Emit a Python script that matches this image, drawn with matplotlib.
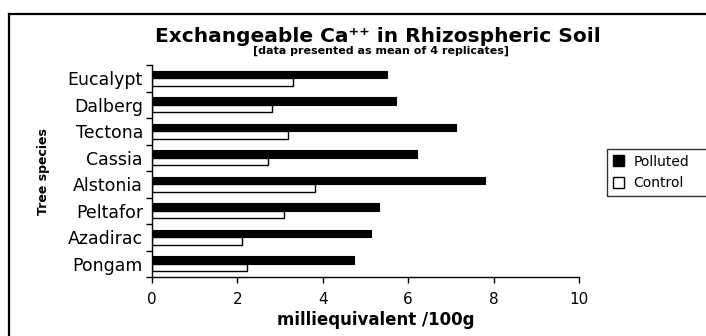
import matplotlib
matplotlib.use("Agg")
import matplotlib.pyplot as plt
import numpy as np
from matplotlib.lines import Line2D
from matplotlib.patches import Patch

species = ["Pongam", "Azadirac", "Peltafor", "Alstonia", "Cassia", "Tectona", "Dalberg", "Eucalypt"]
polluted = [4.72, 5.12, 5.31, 7.81, 6.20, 7.12, 5.71, 5.51]
control = [2.22, 2.11, 3.10, 3.82, 2.71, 3.19, 2.81, 3.30]
xticks = [0, 2, 4, 6, 8, 10]

plt.rcParams['font.family'] = ['DejaVu Sans']

W, H = 706, 336
fig = plt.figure(figsize=(W / 100, H / 100), dpi=100)
fig.patch.set_facecolor("white")

ax = fig.add_axes([152 / W, 1 - 277 / H, (579 - 152) / W, (277 - 65) / H])

y = np.arange(len(species))
bh = 0.285
ax.barh(y + bh / 2, polluted, height=bh, color="black", edgecolor="black", linewidth=0.8, label="Polluted")
ax.barh(y - bh / 2, control, height=bh, color="white", edgecolor="black", linewidth=1.0, label="Control")

ax.set_xlim(0, 10)
ax.set_ylim(-0.5, len(species) - 0.5)
ax.set_xticks(xticks)
ax.set_xticklabels([str(v) for v in xticks], fontsize=11)
ax.set_yticks(y)
ax.set_yticklabels(species, fontsize=12.5)
ax.set_yticks(np.arange(len(species) + 1) - 0.5, minor=True)
ax.tick_params(axis="y", which="major", length=0, pad=6.5)
ax.tick_params(axis="y", which="minor", length=4, width=1, direction="out")
ax.tick_params(axis="x", which="major", length=4, width=1, direction="out", pad=6.5)
for s in ["top", "right"]:
    ax.spines[s].set_visible(False)
for s in ["left", "bottom"]:
    ax.spines[s].set_linewidth(1)

ax.set_xlabel("milliequivalent /100g", fontsize=12, fontweight="bold")
ax.xaxis.set_label_coords((376 - 152) / (579 - 152), (277 - 320) / (277 - 65))
ax.xaxis.label.set_va("center")

fig.text(43 / W, 1 - 172 / H, "Tree species", rotation=90, ha="center", va="center",
         fontsize=9, fontweight="bold")

fig.text(378 / W, 1 - 36 / H, "Exchangeable Ca\u207a\u207a in Rhizospheric Soil", ha="center", va="center",
         fontsize=14.5, fontweight="bold")
fig.text(381 / W, 1 - 51 / H, "[data presented as mean of 4 replicates]", ha="center", va="center",
         fontsize=8, fontweight="bold")

handles = [Patch(facecolor="black", edgecolor="black", label="Polluted"),
           Patch(facecolor="white", edgecolor="black", label="Control")]
leg = fig.legend(handles=handles, loc="upper left",
                 bbox_to_anchor=(607 / W, 1 - 192 / H, 100 / W, 43 / H),
                 bbox_transform=fig.transFigure, mode="expand", fontsize=10, frameon=True, fancybox=False,
                 handlelength=0.8, handleheight=0.8, handletextpad=0.7, labelspacing=0.55,
                 borderpad=0.4, borderaxespad=0)
leg.get_frame().set_edgecolor("black")
leg.get_frame().set_linewidth(1)

fig.add_artist(Line2D([9 / W, 9 / W], [0, 1 - 14 / H], transform=fig.transFigure, color="black", lw=1.6))
fig.add_artist(Line2D([9 / W, 1], [1 - 14 / H, 1 - 14 / H], transform=fig.transFigure, color="black", lw=1.6))

fig.savefig("out.png", dpi=100, facecolor="white")
